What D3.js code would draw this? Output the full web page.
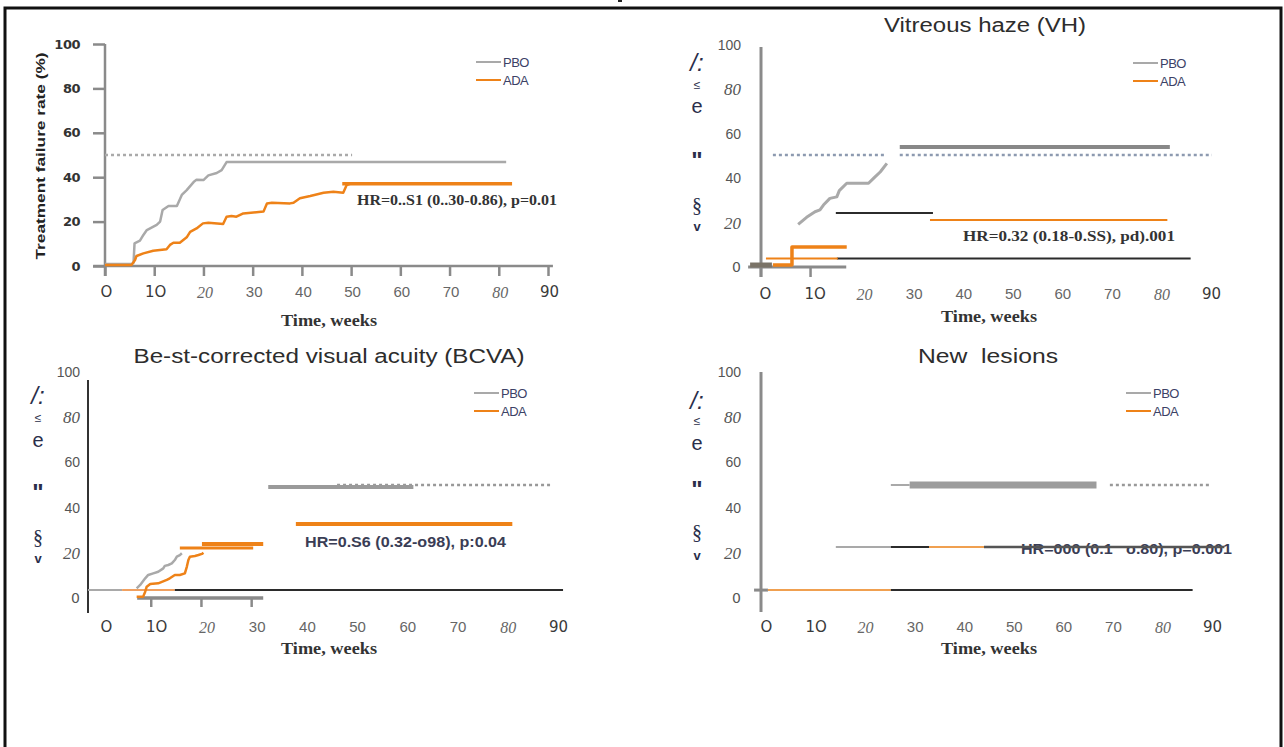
<!DOCTYPE html>
<html>
<head>
  <meta charset="utf-8">
  <title>Treatment failure by component</title>
  <script src="https://cdn.jsdelivr.net/npm/d3@7"></script>
  <style>
    body { margin: 0; background: white; }
    svg { display: block; }
    .serif { font-family: "Liberation Serif", "DejaVu Serif", serif; }
    .sans { font-family: "Liberation Sans", Arial, sans-serif; }
    .wide { font-family: "DejaVu Sans", Verdana, sans-serif; }
  </style>
</head>
<body>
<script>
  // ---- shared ticks ----
  const weekTicks = [0, 10, 20, 30, 40, 50, 60, 70, 80, 90];
  const weekTickLabels = ["O", "1O", "20", "30", "40", "50", "60", "70", "80", "90"];
  const rateTicks = [0, 20, 40, 60, 80, 100];
  const rateTickLabels = ["0", "20", "40", "60", "80", "100"];
  const italicTicks = [20, 80];
  const legendNames = ["PBO", "ADA"];

  // ---- panel 1: overall treatment failure (weeks, %) ----
  const overallPbo = [[0,0.9],[5.4,0.9],[5.8,1.5],[6.0,10.2],[7.1,11.4],[7.8,14.0],[8.5,16.2],[10.5,18.5],[11.2,20.0],[11.7,25.2],[12.9,27.0],[14.6,27.0],[15.6,32.0],[16.6,34.2],[18.0,37.8],[18.6,38.9],[20.0,38.7],[21.0,40.8],[22.7,41.9],[23.7,43.2],[24.7,46.8],[81.5,46.8]];
  const overallAda = [[0,0.5],[5.4,0.5],[6.1,2.7],[6.4,4.5],[7.8,5.7],[9.8,6.9],[12.5,7.5],[13.2,9.5],[13.9,10.5],[15.2,10.5],[16.6,12.9],[17.3,15.4],[18.6,16.9],[19.9,19.2],[21.0,19.5],[24.0,18.9],[24.7,22.2],[25.7,22.5],[26.7,22.2],[28.1,23.7],[32.2,24.5],[32.9,28.2],[33.9,28.5],[37.6,28.2],[38.3,28.5],[39.6,30.5],[41.7,31.5],[44.4,33.0],[46.4,33.4],[48.4,33.0],[49.1,36.5],[49.8,37.0]];
  const overallAdaFlat = [[48.2, 82.7, 37]];
  const overallMedian = [[0, 50.2, 50]];
  const overallHR = "HR=0..S1 (0..30-0.86), p=0.01";

  // ---- panel 2: vitreous haze ----
  const vhTitle = "Vitreous haze (VH)";
  const vhPbo = [[7.5,19.2],[9.2,22.4],[10.9,24.9],[11.9,25.7],[12.6,27.9],[13.9,30.9],[15.3,31.6],[15.8,34.4],[17.3,37.7],[21.7,37.7],[22.7,39.9],[24.1,42.9],[25.4,46.7]];
  const vhAda = [[2.4,0.9],[6.25,0.9],[6.25,9.0],[17.3,9.0]];
  const vhThickGray = [[28.0, 82.5, 54]];
  const vhDotted = [[2.4, 25, 50.5], [28, 91, 50.5]];
  const vhBlack = [[15.1, 34.7, 24.3], [15.3, 86.7, 3.8]];
  const vhOrangeThin = [[34.1, 82, 21.2], [1.0, 15.5, 3.8]];
  const vhBaseBar = [[-2.2, 2.2, 0.9]];
  const vhAxisStub = [[-2.6, 17.2, 0]];
  const vhHR = "HR=0.32 (0.18-0.SS), pd).001";

  // ---- panel 3: best-corrected visual acuity ----
  const bcvaTitle = "Be-st-corrected visual acuity (BCVA)";
  const bcvaPbo = [[7.1,4.3],[7.8,5.8],[8.8,8.7],[9.4,10.2],[10.4,10.9],[11.4,11.6],[12.4,13.1],[12.7,14.2],[13.4,14.6],[14.1,15.3],[14.7,16.8],[15.1,18.3],[15.7,19.0],[16.1,19.8]];
  const bcvaAda = [[7.1,0.6],[8.4,0.6],[8.8,2.8],[9.1,5.0],[9.8,6.2],[11.4,6.5],[13.1,8.0],[13.7,8.7],[14.7,10.2],[15.7,10.2],[16.7,10.9],[17.1,13.9],[17.4,16.8],[17.7,18.3],[18.7,18.6],[19.4,19.0],[20.1,19.5],[20.4,20.0]];
  const bcvaBlack = [[14.7, 92, 3.5]];
  const bcvaGrayThin = [[-2.6, 4.2, 3.5]];
  const bcvaOrangeThin = [[4.2, 14.7, 3.5]];
  const bcvaThickGray = [[33.3, 62.2, 49.1]];
  const bcvaDotted = [[47, 90, 50]];
  const bcvaOrangeThick = [[38.8, 81.9, 32.7], [20.1, 32.3, 23.9]];
  const bcvaOrangeMid = [[15.7, 30.3, 22.1]];
  const bcvaAxisStub = [[7.2, 32.3, 0]];
  const bcvaAxisTicks = [10, 20, 30];
  const bcvaHR = "HR=0.S6 (0.32-o98), p:0.04";

  // ---- panel 4: new lesions ----
  const nlTitle = "New\u00a0\u00a0lesions";
  const nlGrayThin = [[15.1, 26.2, 22.6], [26.2, 30.0, 50]];
  const nlBlack = [[26.2, 87.1, 3.5], [26.2, 33.9, 22.6]];
  const nlOrangeThin = [[1.4, 26.2, 3.5], [33.9, 45.0, 22.6]];
  const nlDarkGray = [[45.0, 93.5, 22.6]];
  const nlThickGray = [[30.0, 67.7, 50]];
  const nlDotted = [[70.4, 90.5, 50]];
  const nlAxisStub = [[-1.4, 1.4, 3.5]];
  const nlHR = "HR=000 (0.1\u00a0\u00a0\u00a0o.80), p=0.001";

  // garbled y-axis remnants of the scanned figure
  const yLabelBits = ["/:", "≤", "e", "\"", "§", "v"];

  const GRAY = "#a9a9a9", ORANGE = "#ee8218", AXIS = "#8a8a8a", INK = "#2b2b2b";

  const svg = d3.select("body").append("svg")
    .attr("width", 1284).attr("height", 747);

  // outer frame (with the clipped mark at the top edge)
  svg.append("rect").attr("x", 5).attr("y", 8).attr("width", 1276).attr("height", 760)
    .attr("fill", "none").attr("stroke", "#111").attr("stroke-width", 3);
  svg.append("rect").attr("x", 618).attr("y", 0).attr("width", 4).attr("height", 2).attr("fill", "#222");

  // ---------- helpers ----------
  function segs(g, x, y, data, color, width, dash) {
    g.selectAll(null).data(data).enter().append("line")
      .attr("x1", d => x(d[0])).attr("x2", d => x(d[1]))
      .attr("y1", d => y(d[2])).attr("y2", d => y(d[2]))
      .attr("stroke", color).attr("stroke-width", width)
      .attr("stroke-dasharray", dash || null);
  }

  function curve(g, x, y, data, color, width) {
    g.append("path").datum(data)
      .attr("fill", "none").attr("stroke", color).attr("stroke-width", width)
      .attr("stroke-linejoin", "round")
      .attr("d", d3.line().x(d => x(d[0])).y(d => y(d[1])));
  }

  function weekLabels(g, x, yPos, dx) {
    const ax = g.append("g").attr("transform", "translate(" + dx + "," + yPos + ")")
      .call(d3.axisBottom(x).tickValues(weekTicks).tickSize(0).tickPadding(0)
        .tickFormat((d, i) => weekTickLabels[i]));
    ax.select(".domain").remove();
    ax.selectAll("text")
      .attr("dy", "0.35em")
      .attr("fill", (d) => d < 20 || d == 90 ? "#3a3a3a" : "#666")
      .attr("font-size", d => italicTicks.includes(d) ? 16 : 15)
      .attr("font-style", d => italicTicks.includes(d) ? "italic" : "normal")
      .attr("font-family", d => italicTicks.includes(d) ? "Liberation Serif, serif"
        : (d < 20 || d == 90 ? "DejaVu Sans, sans-serif" : "Liberation Sans, sans-serif"));
  }

  function rateLabels(g, y, xPos) {
    const ax = g.append("g").attr("transform", "translate(" + xPos + ",0)")
      .call(d3.axisLeft(y).tickValues(rateTicks).tickSize(0).tickPadding(0)
        .tickFormat((d, i) => rateTickLabels[i]));
    ax.select(".domain").remove();
    ax.selectAll("text")
      .attr("fill", "#555")
      .attr("font-size", d => italicTicks.includes(d) ? 17 : 14)
      .attr("font-style", d => italicTicks.includes(d) ? "italic" : "normal")
      .attr("font-family", d => italicTicks.includes(d) ? "Liberation Serif, serif"
        : (d == 0 ? "DejaVu Sans, sans-serif" : "Liberation Sans Narrow, Liberation Sans, sans-serif"));
  }

  function legend(g, x0, y0) {
    legendNames.forEach((name, i) => {
      g.append("line").attr("x1", x0).attr("x2", x0 + 25)
        .attr("y1", y0 + i * 18).attr("y2", y0 + i * 18)
        .attr("stroke", i == 0 ? GRAY : ORANGE).attr("stroke-width", 2);
      g.append("text").attr("x", x0 + 27).attr("y", y0 + i * 18).attr("dy", "0.35em")
        .attr("class", "sans").attr("font-size", 13).attr("fill", "#3c4166")
        .attr("letter-spacing", -0.5).text(name);
    });
  }

  function timeLabel(g, cx, cy) {
    g.append("text").attr("x", cx).attr("y", cy).attr("text-anchor", "middle")
      .attr("class", "serif").attr("font-size", 16).attr("font-weight", "bold")
      .attr("fill", "#333").attr("textLength", 96).attr("lengthAdjust", "spacingAndGlyphs")
      .text("Time, weeks");
  }

  function title(g, cx, cy, text, len) {
    g.append("text").attr("x", cx).attr("y", cy).attr("dy", "0.35em").attr("text-anchor", "middle")
      .attr("class", "sans").attr("font-size", 20).attr("fill", "#2d2d2d")
      .attr("textLength", len).attr("lengthAdjust", "spacingAndGlyphs").text(text);
  }

  function hrText(g, x0, cy, text, len, serif) {
    g.append("text").attr("x", x0).attr("y", cy).attr("dy", "0.35em")
      .attr("class", serif ? "serif" : "sans")
      .attr("font-size", serif ? 15 : 14).attr("font-weight", "bold")
      .attr("fill", serif ? "#333" : "#3a3d55")
      .attr("textLength", len).attr("lengthAdjust", "spacingAndGlyphs").text(text);
  }

  function garbled(g, x0, ys) {
    const sizes = [24, 12, 20, 24, 20, 13];
    yLabelBits.forEach((c, i) => {
      g.append("text").attr("x", x0).attr("y", ys[i]).attr("dy", "0.35em")
        .attr("text-anchor", "middle").attr("font-size", sizes[i])
        .attr("font-weight", i == 3 || i == 5 ? "bold" : "normal")
        .attr("font-style", i == 0 ? "italic" : "normal")
        .attr("class", i == 4 ? "serif" : "sans").attr("fill", "#2a2e4a").text(c);
    });
  }

  // ---------- panel 1 ----------
  const p1 = svg.append("g");
  const x1 = d3.scaleLinear().domain([0, 90]).range([105, 548]);
  const y1 = d3.scaleLinear().domain([0, 100]).range([266, 44]);

  const yAx1 = p1.append("g").attr("transform", "translate(" + x1(0) + ",0)")
    .call(d3.axisLeft(y1).tickValues(rateTicks).tickSize(12).tickPadding(13)
      .tickFormat((d, i) => rateTickLabels[i]));
  yAx1.select(".domain").remove();
  yAx1.selectAll("line").attr("stroke", AXIS).attr("stroke-width", 2.5);
  yAx1.selectAll("text").attr("class", "wide").attr("font-size", 13).attr("font-weight", "bold")
    .attr("fill", "#333").attr("letter-spacing", -0.5);
  p1.append("line").attr("x1", x1(0)).attr("x2", x1(0)).attr("y1", y1(100)).attr("y2", y1(0) + 10)
    .attr("stroke", AXIS).attr("stroke-width", 2.5);

  const xAx1 = p1.append("g").attr("transform", "translate(0," + y1(0) + ")")
    .call(d3.axisBottom(x1).tickValues(weekTicks).tickSize(10).tickFormat(""));
  xAx1.select(".domain").remove();
  xAx1.selectAll("line").attr("stroke", AXIS).attr("stroke-width", 2.5);
  p1.append("line").attr("x1", x1(-2.4)).attr("x2", x1(91)).attr("y1", y1(0)).attr("y2", y1(0))
    .attr("stroke", AXIS).attr("stroke-width", 2.5);
  weekLabels(p1, x1, 292, 1);

  p1.append("text").attr("transform", "translate(40,156) rotate(-90)")
    .attr("text-anchor", "middle").attr("dy", "0.35em")
    .attr("class", "sans").attr("font-size", 13).attr("font-weight", "bold").attr("fill", "#222")
    .attr("textLength", 207).attr("lengthAdjust", "spacingAndGlyphs")
    .text("Treatment failure rate (%)");

  segs(p1, x1, y1, overallMedian, "#aaa", 2.5, "3,3");
  curve(p1, x1, y1, overallPbo, GRAY, 2.5);
  curve(p1, x1, y1, overallAda, ORANGE, 2.5);
  segs(p1, x1, y1, overallAdaFlat, ORANGE, 3.5);
  hrText(p1, 357, 200, overallHR, 200, true);
  legend(p1, 476, 62);
  timeLabel(p1, 329, 326);

  // ---------- panel 2 ----------
  const p2 = svg.append("g");
  const x2 = d3.scaleLinear().domain([0, 90]).range([761, 1207]);
  const y2 = d3.scaleLinear().domain([0, 100]).range([267, 45]);

  p2.append("line").attr("x1", x2(0)).attr("x2", x2(0)).attr("y1", y2(100) + 2).attr("y2", y2(0) + 10)
    .attr("stroke", AXIS).attr("stroke-width", 3);
  segs(p2, x2, y2, vhAxisStub, AXIS, 3);
  p2.selectAll(null).data([0, 10]).enter().append("line")
    .attr("x1", d => x2(d)).attr("x2", d => x2(d)).attr("y1", y2(0)).attr("y2", y2(0) + 10)
    .attr("stroke", AXIS).attr("stroke-width", 2.5);
  rateLabels(p2, y2, 741);
  weekLabels(p2, x2, 294, 4);
  title(p2, 985, 25, vhTitle, 202);
  garbled(p2, 697, [63, 85, 106, 161, 205, 226]);

  segs(p2, x2, y2, vhDotted, "#8d9ab0", 2.5, "3,3");
  segs(p2, x2, y2, vhThickGray, "#888", 4);
  curve(p2, x2, y2, vhPbo, GRAY, 3);
  segs(p2, x2, y2, vhBlack, INK, 2);
  segs(p2, x2, y2, vhOrangeThin, ORANGE, 2);
  segs(p2, x2, y2, vhBaseBar, "#7a7367", 5);
  curve(p2, x2, y2, vhAda, ORANGE, 3.5);
  hrText(p2, 963, 236, vhHR, 212, true);
  legend(p2, 1133, 63);
  timeLabel(p2, 989, 322);

  // ---------- panel 3 ----------
  const p3 = svg.append("g");
  const x3 = d3.scaleLinear().domain([0, 90]).range([101, 553]);
  const y3 = d3.scaleLinear().domain([0, 100]).range([598, 372]);

  p3.append("line").attr("x1", x3(0) - 13).attr("x2", x3(0) - 13).attr("y1", y3(100) + 8).attr("y2", y3(0) + 15)
    .attr("stroke", "#333").attr("stroke-width", 2);
  segs(p3, x3, y3, bcvaAxisStub, AXIS, 3.5);
  p3.selectAll(null).data(bcvaAxisTicks).enter().append("line")
    .attr("x1", d => x3(d)).attr("x2", d => x3(d)).attr("y1", y3(0)).attr("y2", y3(0) + 9)
    .attr("stroke", AXIS).attr("stroke-width", 2.5);
  rateLabels(p3, y3, 80);
  weekLabels(p3, x3, 627, 5);
  title(p3, 329, 356, bcvaTitle, 391);
  garbled(p3, 38, [396, 418, 440, 493, 537, 558]);

  segs(p3, x3, y3, bcvaGrayThin, GRAY, 2);
  segs(p3, x3, y3, bcvaOrangeThin, "#f0a060", 2);
  segs(p3, x3, y3, bcvaBlack, INK, 2);
  segs(p3, x3, y3, bcvaDotted, "#999", 2.5, "3,3");
  segs(p3, x3, y3, bcvaThickGray, "#9a9a9a", 4);
  segs(p3, x3, y3, bcvaOrangeThick, ORANGE, 4);
  segs(p3, x3, y3, bcvaOrangeMid, ORANGE, 3);
  curve(p3, x3, y3, bcvaPbo, GRAY, 2.5);
  curve(p3, x3, y3, bcvaAda, ORANGE, 2.5);
  hrText(p3, 305, 542, bcvaHR, 201, false);
  legend(p3, 474, 393);
  timeLabel(p3, 329, 654);

  // ---------- panel 4 ----------
  const p4 = svg.append("g");
  const x4 = d3.scaleLinear().domain([0, 90]).range([761, 1207]);
  const y4 = d3.scaleLinear().domain([0, 100]).range([598, 372]);

  p4.append("line").attr("x1", x4(0)).attr("x2", x4(0)).attr("y1", y4(100)).attr("y2", y4(0) + 14)
    .attr("stroke", AXIS).attr("stroke-width", 3);
  segs(p4, x4, y4, nlAxisStub, AXIS, 3);
  rateLabels(p4, y4, 741);
  weekLabels(p4, x4, 627, 5);
  title(p4, 988, 356, nlTitle, 140);
  garbled(p4, 697, [401, 421, 443, 490, 532, 555]);

  segs(p4, x4, y4, nlDotted, "#999", 2.5, "3,3");
  segs(p4, x4, y4, nlThickGray, "#9c9c9c", 7);
  segs(p4, x4, y4, nlGrayThin, GRAY, 2);
  segs(p4, x4, y4, nlOrangeThin, "#f0a050", 2);
  segs(p4, x4, y4, nlBlack, INK, 2);
  hrText(p4, 1021, 549, nlHR, 211, false);
  segs(p4, x4, y4, nlDarkGray, "#555", 2.5);
  legend(p4, 1126, 393);
  timeLabel(p4, 989, 654);
</script>
</body>
</html>
